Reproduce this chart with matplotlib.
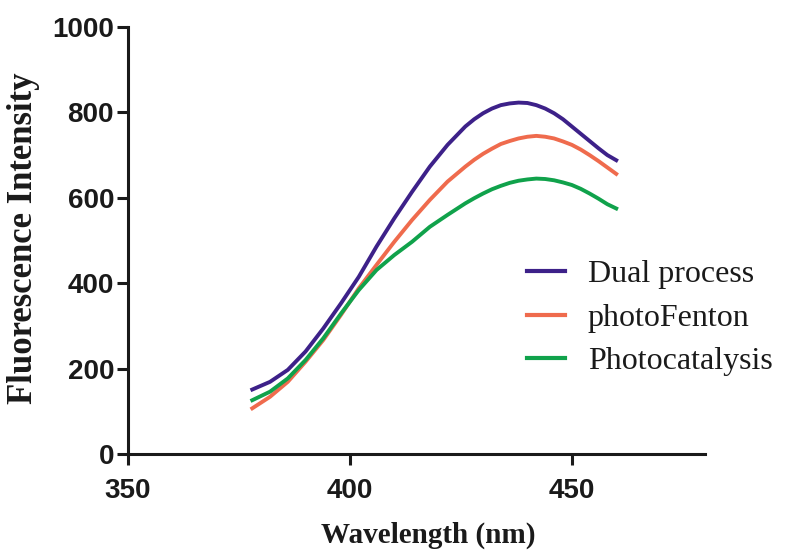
import matplotlib.pyplot as plt
import numpy as np

# wavelength grid (nm) and intensities
wavelength = [378, 382, 386, 390, 394, 398, 402, 406, 410, 414, 418, 422,
              426, 428, 430, 432, 434, 436, 438, 440, 442, 444, 446, 448,
              450, 452, 454, 456, 458, 460]
dual_process = [151, 169, 197, 240, 294, 353, 415, 486, 552, 614, 673, 724,
                767, 784, 798, 809, 817, 821, 823, 822, 817, 809, 798, 784,
                767, 750, 733, 716, 700, 688]
photo_fenton = [107, 134, 169, 216, 267, 326, 388, 443, 497, 548, 595, 638,
                673, 689, 703, 715, 726, 733, 739, 743, 745, 743, 739, 732,
                724, 713, 700, 686, 671, 656]
photocatalysis = [126, 146, 177, 220, 271, 329, 384, 431, 466, 497, 532, 560,
                  587, 599, 610, 620, 628, 635, 640, 643, 645, 644, 641, 636,
                  630, 621, 610, 598, 585, 575]

labels = ['Dual process', 'photoFenton', 'Photocatalysis']
colors = ['#3d2189', '#ef6b4d', '#10a24b']
x_ticks = [350, 400, 450]
y_ticks = [0, 200, 400, 600, 800, 1000]

tick_font = ['Liberation Sans']
serif_font = ['Liberation Serif']

fig = plt.figure(figsize=(7.86, 5.54), dpi=100)
ax = fig.add_axes([128/786, 1-454/554, 577/786, 427/554])

for ys, lab, col in zip([dual_process, photo_fenton, photocatalysis], labels, colors):
    ax.plot(wavelength, ys, color=col, lw=2.8, label=lab, solid_joinstyle='round')

ax.set_xlim(350, 480)
ax.set_ylim(0, 1000)
ax.set_xticks(x_ticks)
ax.set_yticks(y_ticks)

for s in ['top', 'right']:
    ax.spines[s].set_visible(False)
for s in ['left', 'bottom']:
    ax.spines[s].set_linewidth(2.2)
    ax.spines[s].set_color('#1a1a1a')

ax.tick_params(axis='both', direction='out', length=8, width=2.2, color='#1a1a1a')
ax.tick_params(axis='y', pad=2)
ax.tick_params(axis='x', pad=9)
for t in ax.get_xticklabels() + ax.get_yticklabels():
    t.set_family(tick_font)
    t.set_fontweight('bold')
    t.set_fontsize(20)
    t.set_color('#1a1a1a')

fig.text(428/786, 1-535/554, 'Wavelength (nm)', ha='center', va='center',
         family=serif_font, fontweight='bold', fontsize=21, color='#1a1a1a')
fig.text(24/786, 1-238/554, 'Fluorescence Intensity', ha='center', va='center',
         rotation=90, family=serif_font, fontweight='bold', fontsize=25, color='#1a1a1a')

leg = ax.legend(loc='center left', bbox_to_anchor=(527/786, 1-318/554),
                bbox_transform=fig.transFigure, frameon=False, borderpad=0,
                borderaxespad=0, handlelength=1.2, handletextpad=0.7,
                labelspacing=0.45, prop={'family': serif_font, 'size': 23})
for line in leg.get_lines():
    line.set_linewidth(3)
for t in leg.get_texts():
    t.set_color('#1a1a1a')

fig.savefig('out.png', dpi=100)
